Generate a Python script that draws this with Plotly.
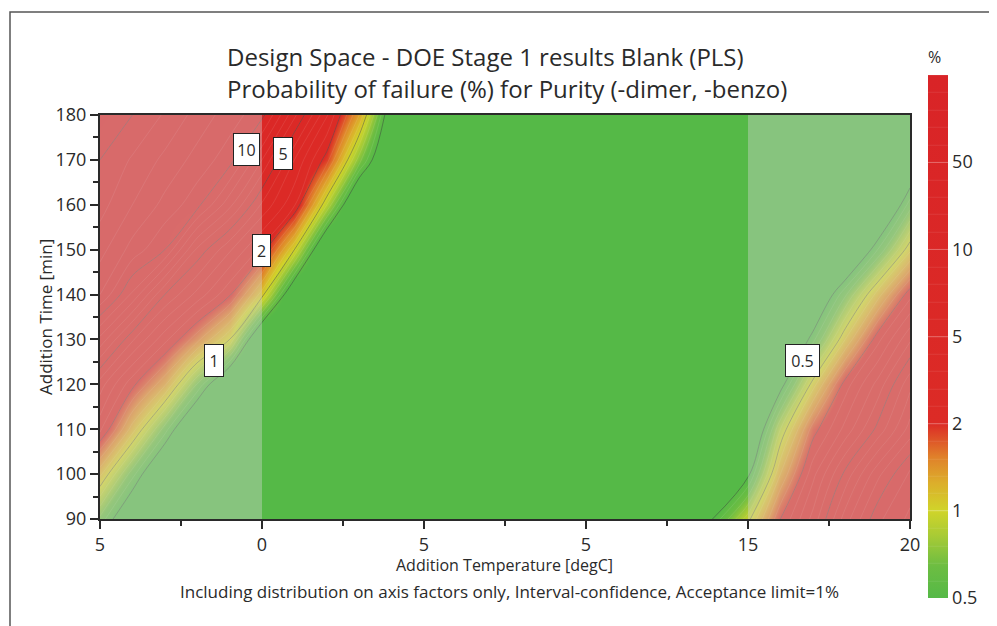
import numpy as np
import plotly.graph_objects as go

# Addition Temperature grid [degC] and Addition Time grid [min]
temperature = [-5, -4, -3, -2, -1, 0, 1, 2, 3, 4, 5, 6, 7, 8, 9, 10, 11, 12, 13, 14, 15, 16, 17, 18, 19, 20]
time_min = [90, 100, 110, 120, 130, 140, 150, 160, 170, 180]

# Probability of failure (%), one list per Addition Time row
p_090 = [0.67, 0.30, 0.20, 0.20, 0.20, 0.20, 0.20, 0.20, 0.20, 0.20, 0.20, 0.20, 0.20, 0.20, 0.20, 0.20, 0.20, 0.20, 0.20, 0.54, 0.96, 2.0, 4.0, 7.5, 16, 28]
p_100 = [1.25, 0.64, 0.25, 0.20, 0.20, 0.20, 0.20, 0.20, 0.20, 0.20, 0.20, 0.20, 0.20, 0.20, 0.20, 0.20, 0.20, 0.20, 0.20, 0.20, 0.47, 1.4, 3.0, 5.3, 8.7, 20]
p_110 = [2.8, 1.3, 0.65, 0.22, 0.20, 0.20, 0.20, 0.20, 0.20, 0.20, 0.20, 0.20, 0.20, 0.20, 0.20, 0.20, 0.20, 0.20, 0.20, 0.20, 0.20, 0.9, 1.9, 3.4, 5.3, 8.4]
p_120 = [4.1, 2.2, 1.44, 0.69, 0.25, 0.20, 0.20, 0.20, 0.20, 0.20, 0.20, 0.20, 0.20, 0.20, 0.20, 0.20, 0.20, 0.20, 0.20, 0.20, 0.20, 0.44, 1.1, 2.3, 4.0, 6.7]
p_130 = [7.7, 4.5, 2.8, 1.67, 1.0, 0.23, 0.20, 0.20, 0.20, 0.20, 0.20, 0.20, 0.20, 0.20, 0.20, 0.20, 0.20, 0.20, 0.20, 0.20, 0.20, 0.20, 0.56, 1.2, 2.4, 4.3]
p_140 = [26, 8.8, 5.0, 3.6, 2.1, 1.1, 0.30, 0.20, 0.20, 0.20, 0.20, 0.20, 0.20, 0.20, 0.20, 0.20, 0.20, 0.20, 0.20, 0.20, 0.20, 0.20, 0.27, 0.68, 1.3, 2.4]
p_150 = [37, 23, 10, 5.8, 3.9, 2.4, 1.0, 0.23, 0.20, 0.20, 0.20, 0.20, 0.20, 0.20, 0.20, 0.20, 0.20, 0.20, 0.20, 0.20, 0.20, 0.20, 0.20, 0.20, 0.60, 1.15]
p_160 = [45, 34, 23.6, 13, 7.3, 4.3, 2.7, 0.9, 0.20, 0.20, 0.20, 0.20, 0.20, 0.20, 0.20, 0.20, 0.20, 0.20, 0.20, 0.20, 0.20, 0.20, 0.20, 0.20, 0.20, 0.65]
p_170 = [50, 41, 32, 23, 13.6, 7.0, 3.8, 1.9, 0.75, 0.20, 0.20, 0.20, 0.20, 0.20, 0.20, 0.20, 0.20, 0.20, 0.20, 0.20, 0.20, 0.20, 0.20, 0.20, 0.20, 0.30]
p_180 = [60, 50, 41, 31, 22, 12.8, 6.25, 3.3, 1.4, 0.35, 0.20, 0.20, 0.20, 0.20, 0.20, 0.20, 0.20, 0.20, 0.20, 0.20, 0.20, 0.20, 0.20, 0.20, 0.20, 0.22]

# colour-bar levels (equally spaced on the bar)
bar_levels = [0.5, 1, 2, 5, 10, 50, 100]
bar_labels = ["0.5", "1", "2", "5", "10", "50"]

# x tick labels as printed
x_tickvals = [-5, 0, 5, 10, 15, 20]
x_ticktext = ["5", "0", "5", "5", "15", "20"]
y_tickvals = [90, 100, 110, 120, 130, 140, 150, 160, 170, 180]

prob = np.array([p_090, p_100, p_110, p_120, p_130, p_140, p_150, p_160, p_170, p_180])
# map % onto the bar's piecewise scale (0.5 -> 0, 1 -> 1, 2 -> 2, 5 -> 3, ...)
scale_pts = [0.1] + bar_levels
scale_idx = [-1] + list(range(len(bar_levels)))
zt = np.interp(prob, scale_pts, scale_idx)

colorscale = [
    [0.0, "#55b947"],
    [0.06, "#6cbd42"],
    [0.12, "#a9cb35"],
    [0.167, "#d0d42a"],
    [0.22, "#dcae2b"],
    [0.27, "#e0802a"],
    [0.333, "#dc2b26"],
    [1.0, "#d92427"],
]

FONT = "Open Sans"
DARK = "#2a2a2a"

OFF = 8  # page body margin of the browser
W, H = 997 - OFF, 626 - OFF
# plot area in reference-image pixels
L, R, T, B = 100, 910, 115, 519
PW, PH = R - L, B - T


def px(xp):
    return (xp - L) / PW


def py(yp):
    return (B - yp) / PH


fig = go.Figure()
fig.add_trace(go.Contour(
    x=temperature, y=time_min, z=zt,
    zmin=0, zmax=6, colorscale=colorscale,
    contours=dict(coloring="heatmap", start=0.2, end=6, size=0.2, showlabels=False),
    line=dict(width=0.5, color="rgba(255,255,255,0.18)"),
    colorbar=dict(
        x=px(928), xanchor="left", xref="paper", xpad=0,
        y=py(323), yanchor="middle", yref="paper", ypad=0,
        lenmode="pixels", len=550, thickness=20,
        outlinewidth=0,
        tickvals=[0, 1, 2, 3, 4, 5], ticktext=bar_labels,
        ticks="inside", ticklen=20, tickcolor="rgba(255,255,255,0.25)", tickwidth=1,
        tickfont=dict(family=FONT, size=18, color=DARK),
        title=dict(text="%", side="top", font=dict(family=FONT, size=16, color=DARK)),
    ),
    hoverinfo="skip",
))
fig.add_trace(go.Contour(
    x=temperature, y=time_min, z=zt,
    contours=dict(coloring="none", start=0, end=5, size=1),
    line=dict(width=1, color="rgba(60,60,60,0.45)"),
    showscale=False, hoverinfo="skip",
))

shapes = [
    dict(type="rect", xref="x", yref="y", x0=-5, x1=0, y0=90, y1=180,
         fillcolor="rgba(213,213,213,0.39)", line=dict(width=0), layer="above"),
    dict(type="rect", xref="x", yref="y", x0=15, x1=20, y0=90, y1=180,
         fillcolor="rgba(213,213,213,0.39)", line=dict(width=0), layer="above"),
    dict(type="rect", xref="paper", yref="paper", x0=px(10), x1=px(1100),
         y0=py(700), y1=py(12), line=dict(color="#555555", width=1.5),
         fillcolor="rgba(0,0,0,0)"),
]

annotations = [
    dict(text="Design Space - DOE Stage 1 results Blank (PLS)", xref="paper", yref="paper",
         x=px(485), y=py(56), showarrow=False, xanchor="center", yanchor="middle",
         font=dict(family=FONT, size=24, color=DARK)),
    dict(text="Probability of failure (%) for Purity (-dimer, -benzo)", xref="paper", yref="paper",
         x=px(507), y=py(89), showarrow=False, xanchor="center", yanchor="middle",
         font=dict(family=FONT, size=24, color=DARK)),
    dict(text="Addition Temperature [degC]", xref="paper", yref="paper",
         x=px(504), y=py(565), showarrow=False, xanchor="center", yanchor="middle",
         font=dict(family=FONT, size=16, color=DARK)),
    dict(text="Including distribution on axis factors only, Interval-confidence, Acceptance limit=1%",
         xref="paper", yref="paper",
         x=px(509), y=py(591), showarrow=False, xanchor="center", yanchor="middle",
         font=dict(family=FONT, size=17, color=DARK)),
    dict(text="Addition Time [min]", xref="paper", yref="paper", textangle=-90,
         x=px(45), y=py(317), showarrow=False, xanchor="center", yanchor="middle",
         font=dict(family=FONT, size=17, color=DARK)),
]

# contour labels in white boxes
label_text = ["10", "5", "2", "1", "0.5"]
label_x = [-0.48, 0.65, -0.02, -1.48, 16.68]
label_y = [172.3, 171.4, 149.9, 125.3, 125.4]
label_w = [25, 18, 17, 18, 33]
for t, lx, ly, w in zip(label_text, label_x, label_y, label_w):
    annotations.append(dict(text=t, x=lx, y=ly, xref="x", yref="y", showarrow=False,
                            bgcolor="white", bordercolor="#222222", borderwidth=1, borderpad=0,
                            width=w, height=31, align="center", valign="middle",
                            font=dict(family=FONT, size=16, color=DARK)))

fig.update_layout(
    width=W, height=H,
    margin=dict(l=L - OFF, r=997 - R, t=T - OFF, b=626 - B, autoexpand=False),
    paper_bgcolor="white", plot_bgcolor="white",
    showlegend=False,
    shapes=shapes, annotations=annotations,
    font=dict(family=FONT, color=DARK),
)
fig.update_xaxes(
    range=[-5, 20], tickvals=x_tickvals, ticktext=x_ticktext,
    ticks="outside", ticklen=8, tickwidth=2, tickcolor=DARK,
    showline=True, linecolor=DARK, linewidth=2, mirror=True,
    showgrid=False, zeroline=False,
    tickfont=dict(family=FONT, size=18, color=DARK),
    minor=dict(dtick=2.5, tick0=-5, ticks="outside", ticklen=5, tickwidth=2, tickcolor=DARK),
)
fig.update_yaxes(
    range=[90, 180], tickvals=y_tickvals,
    ticks="outside", ticklen=8, tickwidth=2, tickcolor=DARK,
    showline=True, linecolor=DARK, linewidth=2, mirror=True,
    showgrid=False, zeroline=False,
    tickfont=dict(family=FONT, size=18, color=DARK),
    minor=dict(dtick=5, tick0=90, ticks="outside", ticklen=5, tickwidth=2, tickcolor=DARK),
)

fig.write_html("out.html")
